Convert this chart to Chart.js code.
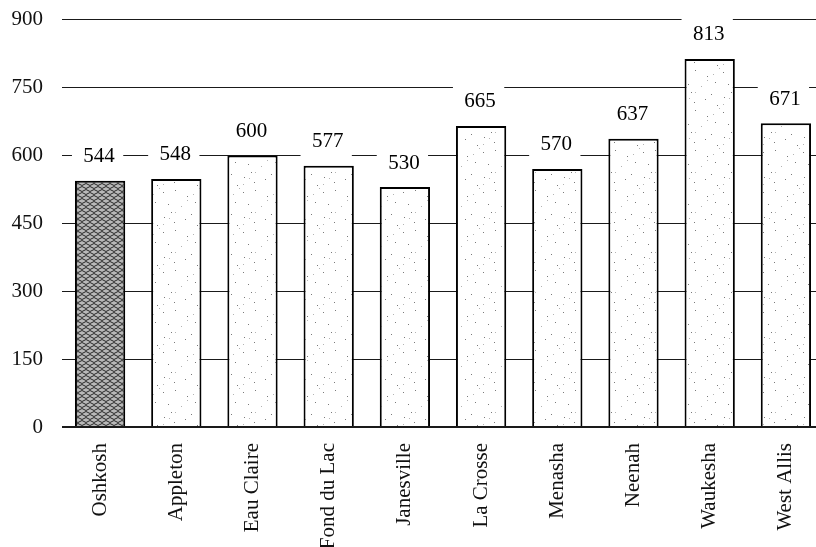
<!DOCTYPE html>
<html>
<head>
<meta charset="utf-8">
<script src="https://cdn.jsdelivr.net/npm/chart.js@4/dist/chart.umd.min.js"></script>
<style>
  html, body { margin: 0; padding: 0; background: #fff; overflow: hidden; }
  #wrap { position: relative; width: 816px; height: 547px; overflow: hidden; }
  canvas { position: absolute; left: 0; top: -12px; }
</style>
</head>
<body>
<div id="wrap"><canvas id="chart" width="824" height="559"></canvas></div>
<script>
// Cities compared, with one value per city
const cities = ['Oshkosh', 'Appleton', 'Eau Claire', 'Fond du Lac', 'Janesville',
                'La Crosse', 'Menasha', 'Neenah', 'Waukesha', 'West Allis'];
const values = [544, 548, 600, 577, 530, 665, 570, 637, 813, 671];
const yTicks = [0, 150, 300, 450, 600, 750, 900];

const SERIF = '"Liberation Serif", "Times New Roman", serif';

// Light stippled fill used for the comparison cities
function stipplePattern() {
  const c = document.createElement('canvas');
  c.width = 40; c.height = 40;
  const g = c.getContext('2d');
  g.fillStyle = '#ffffff';
  g.fillRect(0, 0, 40, 40);
  g.fillStyle = '#7a7a7a';
  const dots = [[3,4],[15,2],[27,8],[35,14],[8,16],[21,18],[31,26],
                [4,29],[14,34],[25,31],[37,37],[11,24]];
  dots.forEach(([x, y]) => g.fillRect(x, y, 1, 1));
  g.fillStyle = '#b4b4b4';
  for (let i = 3; i < 40; i += 6) g.fillRect(i, 39 - i, 1, 1);
  return g.createPattern(c, 'repeat');
}

// Dense woven fill that highlights the first city
function wovenPattern() {
  const c = document.createElement('canvas');
  c.width = 8; c.height = 6;
  const g = c.getContext('2d');
  g.fillStyle = '#b8b8b8';
  g.fillRect(0, 0, 8, 6);
  g.strokeStyle = '#262626';
  g.lineWidth = 1;
  g.beginPath();
  g.moveTo(0, 1.5); g.quadraticCurveTo(2, -0.5, 4, 1.5); g.quadraticCurveTo(6, 3.5, 8, 1.5);
  g.moveTo(0, 4.5); g.quadraticCurveTo(2, 6.5, 4, 4.5); g.quadraticCurveTo(6, 2.5, 8, 4.5);
  g.stroke();
  return g.createPattern(c, 'repeat');
}

const light = stipplePattern();
const dark = wovenPattern();

// White boxes behind value labels interrupt the gridlines; text goes on top
const valueLabels = {
  id: 'valueLabels',
  beforeDatasetsDraw(chart) {
    const ctx = chart.ctx;
    const meta = chart.getDatasetMeta(0);
    ctx.save();
    ctx.fillStyle = '#ffffff';
    meta.data.forEach(bar => {
      const half = bar.width / 2;
      ctx.fillRect(bar.x - half - 3, bar.y - 44, bar.width + 1, 43);
    });
    ctx.restore();
  },
  afterDatasetsDraw(chart) {
    const ctx = chart.ctx;
    const meta = chart.getDatasetMeta(0);
    const data = chart.data.datasets[0].data;
    ctx.save();
    ctx.fillStyle = '#000';
    ctx.font = '21px ' + SERIF;
    ctx.textAlign = 'center';
    ctx.textBaseline = 'middle';
    meta.data.forEach((bar, i) => {
      ctx.fillText(String(data[i]), bar.x - 1, bar.y - 24);
    });
    ctx.restore();
  }
};

new Chart(document.getElementById('chart'), {
  type: 'bar',
  data: {
    labels: cities,
    datasets: [{
      data: values,
      backgroundColor: cities.map((_, i) => i === 0 ? dark : light),
      borderColor: '#000',
      borderWidth: 2,
      barPercentage: 0.66,
      categoryPercentage: 1.0
    }]
  },
  options: {
    responsive: false,
    devicePixelRatio: 1,
    animation: false,
    layout: { padding: { top: 6, left: 0, right: 0, bottom: 0 } },
    plugins: { legend: { display: false }, tooltip: { enabled: false } },
    scales: {
      y: {
        min: 0,
        max: 900,
        afterBuildTicks(scale) { scale.ticks = yTicks.map(v => ({ value: v })); },
        afterFit(scale) { scale.width = 62; },
        ticks: {
          color: '#111',
          font: { family: SERIF, size: 21 },
          padding: 19
        },
        grid: {
          color: '#1a1a1a',
          lineWidth: ctx => (ctx.tick && ctx.tick.value === 0 ? 2 : 1),
          drawTicks: false
        },
        border: { display: false }
      },
      x: {
        afterFit(scale) { scale.height = 120; },
        ticks: {
          color: '#111',
          font: { family: SERIF, size: 21 },
          maxRotation: 90,
          minRotation: 90,
          padding: 8,
          autoSkip: false
        },
        grid: { display: false },
        border: { display: false }
      }
    }
  },
  plugins: [valueLabels]
});
</script>
</body>
</html>
